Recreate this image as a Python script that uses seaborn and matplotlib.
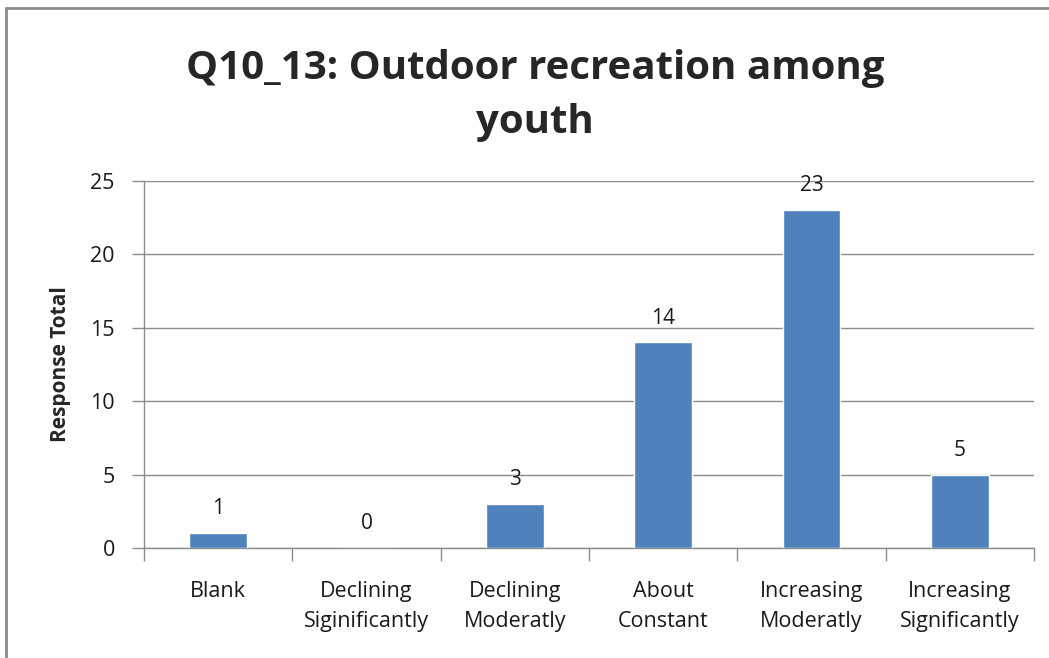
import matplotlib
matplotlib.use("Agg")
import matplotlib.pyplot as plt
from matplotlib.lines import Line2D
import seaborn as sns
import pandas as pd

# 数据
categories = ["Blank", "Declining\nSiginificantly", "Declining\nModeratly",
              "About\nConstant", "Increasing\nModeratly", "Increasing\nSignificantly"]
responses = [1, 0, 3, 14, 23, 5]
y_ticks = [0, 5, 10, 15, 20, 25]

title = "Q10_13: Outdoor recreation among\nyouth"
y_label = "Response Total"

sns.set_theme(style="white")
plt.rcParams['font.family'] = ['Open Sans', 'DejaVu Sans']

df = pd.DataFrame({"category": categories, "total": responses})

fig = plt.figure(figsize=(10.49, 6.58), dpi=100)
ax = fig.add_axes([144 / 1049, 1 - 548 / 658, (1034 - 144) / 1049, (548 - 181) / 658])

sns.barplot(data=df, x="category", y="total", color="#4F81BD", saturation=1,
            width=0.39, ax=ax, zorder=3)

for c in ax.containers:
    ax.bar_label(c, padding=10, fontsize=15, color="#1a1a1a")

ax.set_ylim(0, 25)
ax.set_xlim(-0.5, len(categories) - 0.5)
ax.set_yticks(y_ticks)
ax.yaxis.grid(True, color="#8c8c8c", linewidth=1)
ax.set_axisbelow(True)

for s in ["top", "right"]:
    ax.spines[s].set_visible(False)
for s in ["left", "bottom"]:
    ax.spines[s].set_color("#8c8c8c")
    ax.spines[s].set_linewidth(1)

ax.tick_params(axis="y", which="major", left=True, length=9, width=1, color="#8c8c8c",
               labelsize=15.5, labelcolor="#1a1a1a", pad=12)
ax.tick_params(axis="x", which="major", bottom=False, labelsize=15.5,
               labelcolor="#1a1a1a", pad=18)
for lbl in ax.get_xticklabels():
    lbl.set_linespacing(1.55)
ax.set_xticks([i - 0.5 for i in range(len(categories) + 1)], minor=True)
ax.tick_params(axis="x", which="minor", bottom=True, length=9, width=1, color="#8c8c8c")

ax.set_xlabel("")
ax.set_ylabel(y_label, fontsize=15, fontweight="bold", labelpad=14)

fig.text(0.51, 1 - 95 / 658, title, ha="center", va="center", fontsize=29,
         fontweight="bold", linespacing=1.5)

# 外框
fig.add_artist(Line2D([6 / 1049, 6 / 1049], [0, 1 - 8 / 658], color="#8c8c8c", linewidth=2))
fig.add_artist(Line2D([6 / 1049, 1], [1 - 8 / 658, 1 - 8 / 658], color="#8c8c8c", linewidth=2))

fig.savefig("out.png", dpi=100)
